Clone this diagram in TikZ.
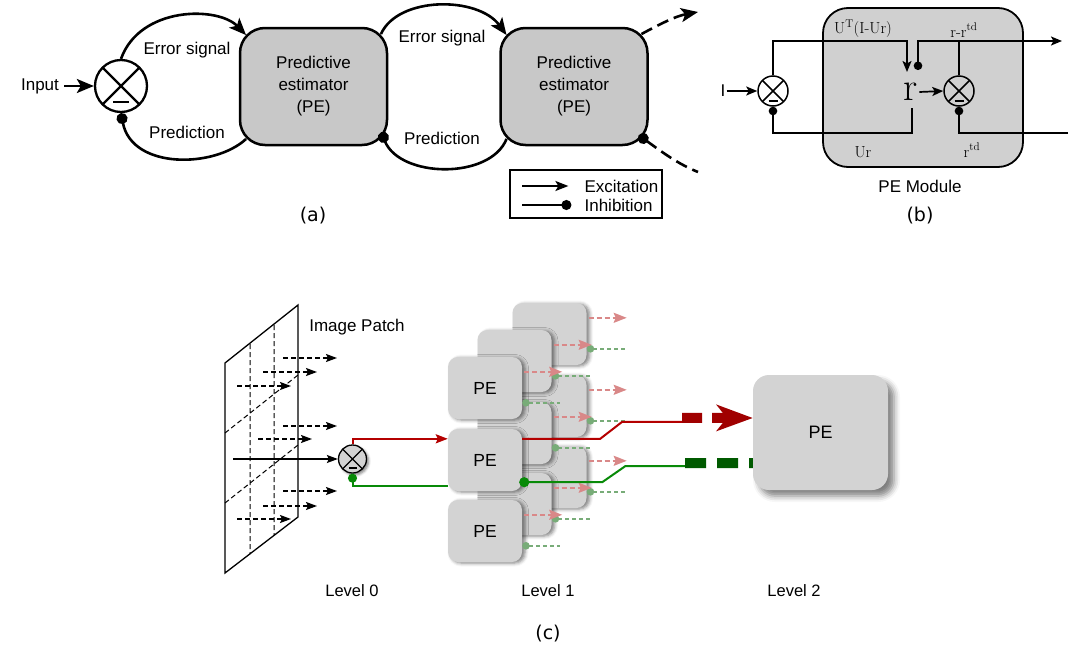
\documentclass[tikz,border=0pt]{standalone}
\usepackage[no-math]{fontspec}
\setmainfont{Liberation Sans}
\newfontfamily\dejavu{DejaVu Sans}
\newfontfamily\lmrom{Latin Modern Roman}
\usetikzlibrary{arrows.meta,calc,shadows,shadows.blur}
\definecolor{peagray}{HTML}{C8C8C8}
\definecolor{pebgray}{HTML}{D0D0D0}
\definecolor{pecgray}{HTML}{D3D3D3}
\definecolor{mred}{HTML}{B40000}
\definecolor{mgreen}{HTML}{088A08}
\definecolor{tred}{HTML}{A00000}
\definecolor{tgreen}{HTML}{005A00}
\definecolor{lred}{HTML}{D98888}
\definecolor{lgreen}{HTML}{78AC78}
\newcommand\mbar[4]{\draw[line width=#4] ($(#1.center)+(-#2,#3)$) -- ($(#1.center)+(#2,#3)$);}
\begin{document}
\begin{tikzpicture}[x=1pt,y=-1pt,
  txt/.style={font=\fontsize{17}{22}\selectfont, inner sep=1pt},
  small/.style={font=\fontsize{16.5}{18}\selectfont, inner sep=1pt},
  lab/.style={font=\dejavu\fontsize{19}{19}\selectfont, inner sep=1pt},
  pea/.style={draw, line width=2.5pt, rounded corners=25pt, fill=peagray, minimum width=147pt, minimum height=117pt, align=center, txt},
  comp/.style={circle, draw, inner sep=0pt, path picture={\draw[line width=#1] (path picture bounding box.north west) -- (path picture bounding box.south east) (path picture bounding box.north east) -- (path picture bounding box.south west);}},
  exc/.style={-{Stealth[length=17pt,width=14pt,inset=4pt]}},
  inh/.style={-{Circle[length=11pt]}},
  inhs/.style={{Circle[length=11pt]}-},
  wa/.style={line width=2.6pt},
  wb/.style={line width=1.7pt},
  excb/.style={-{Stealth[length=11pt,width=9pt,inset=2.5pt]}},
  inhb/.style={-{Circle[length=8.5pt]}},
  pec/.style={rounded corners=10pt, fill=pecgray, minimum width=74pt, minimum height=62pt, inner sep=0pt, font=\fontsize{17.5}{20}\selectfont,
    blur shadow={shadow xshift=3pt, shadow yshift=-1pt, shadow blur radius=3.5pt, shadow opacity=50}},
  lredarr/.style={draw=lred, line width=1.8pt, dash pattern=on 5pt off 3pt, -{Stealth[length=13pt,width=10pt,inset=2pt]}},
  lgreenln/.style={draw=lgreen, line width=1.5pt, dash pattern=on 4pt off 3pt, {Circle[length=7.5pt]}-},
  patcharr/.style={line width=1.5pt, dash pattern=on 5pt off 3pt, -{Stealth[length=11pt,width=8pt,inset=2pt]}},
  ]
\useasboundingbox (0,0) rectangle (1072,651);

%% ---------------- (a) ----------------
\node[txt] (input) at (40,86) {Input};
\node[comp=2.4pt, line width=2.3pt, minimum size=52pt] (c1) at (121,86) {};
\mbar{c1}{8}{16}{2.6pt}
\draw[wa,exc] ([xshift=4pt]input.east) -- (c1.west);
\node[pea] (pe1) at (313.5,86.5) {Predictive\\estimator\\(PE)};
\node[pea] (pe2) at (574,86.5) {Predictive\\estimator\\(PE)};
\draw[wa,exc] (c1.north) .. controls (140,6) and (218,6) .. ($(pe1.north west)+(7.3,8.3)$);
\draw[wa,inh] ($(pe1.south west)+(7.3,-7.3)$) .. controls (215,168) and (132,170) .. (c1.south);
\draw[wa,exc] ($(pe1.north east)+(-7.3,7.3)$) .. controls (398,-4) and (478,-4) .. ($(pe2.north west)+(7.3,8.3)$);
\draw[wa,inh] ($(pe2.south west)+(7.3,-7.3)$) .. controls (490,180) and (400,178) .. ($(pe1.south east)+(-7,-14)$);
\node[txt] (es1) at (187,50) {Error signal};
\node[txt] (pr1) at (187,132) {Prediction};
\node[txt] (es2) at (442,38) {Error signal};
\node[txt] (pr2) at (442,138) {Prediction};
\coordinate (oa1) at (698,12);
\coordinate (oa2) at (698,172);
\draw[wa,exc,dash pattern=on 12pt off 6pt] ($(pe2.north east)+(-7.3,7.3)$) .. controls (660,24) and (676,16) .. (oa1);
\draw[wa,inhs,dash pattern=on 12pt off 6pt] ($(pe2.south east)+(-10,-11)$) .. controls (662,152) and (678,164) .. (oa2);
\node[draw, line width=1.2pt, minimum width=152pt, minimum height=48pt, inner sep=0pt] (leg) at (586,194) {};
\draw[line width=2pt, -{Stealth[length=13pt,width=10pt,inset=3pt]}] ($(leg.west)+(13,-8)$) -- ++(46,0);
\draw[line width=2pt, -{Circle[length=10pt]}] ($(leg.west)+(13,11)$) -- ++(49,0);
\node[txt, anchor=west] (lex) at ($(leg.west)+(74,-8)$) {Excitation};
\node[txt, anchor=west] (lin) at ($(leg.west)+(74,11)$) {Inhibition};
\node[lab] (la) at (313,216) {(a)};

%% ---------------- (b) ----------------
\node[draw, line width=1.8pt, rounded corners=25pt, fill=pebgray, minimum width=200pt, minimum height=159pt] (pem) at (923,87.5) {};
\node[txt] (inI) at (723,91) {I};
\node[comp=1.5pt, line width=1.5pt, minimum size=30pt] (cb1) at (773,91) {};
\node[comp=1.5pt, line width=1.5pt, minimum size=30pt] (cb2) at (959,91) {};
\mbar{cb1}{4.5}{10}{1.6pt}
\mbar{cb2}{4.5}{10}{1.6pt}
\node[inner sep=1pt, font=\lmrom\fontsize{40}{40}\selectfont] (rr) at (911,92) {r};
\coordinate (ra) at (907,72);
\coordinate (rdot) at (918,70);
\coordinate (outb) at (1062,41);
\coordinate (rb) at (912,108);
\coordinate (ub) at (912,133);
\coordinate (outb2) at (1068,133);
\draw[wb,excb] (inI.east) -- (cb1.west);
\draw[wb,excb] (cb1.north) |- ($(ra)+(0,-31)$) -- (ra);
\draw[wb,excb] (cb2.north) |- (outb);
\draw[wb,inhb] (cb2.north |- outb) -- (rdot |- outb) -- (rdot);
\draw[wb,excb] (rr.east) -- (cb2.west);
\draw[wb,inhb] (rb) -- (ub) -| (cb1.south);
\draw[wb,inhb] (outb2) -| (cb2.south);
\node[inner sep=1pt, font=\lmrom\fontsize{16}{18}\selectfont] (lut) at (863,29) {U\textsuperscript{T}(I-Ur)};
\node[inner sep=1pt, font=\lmrom\fontsize{16}{18}\selectfont] (lrr) at (964,30) {r-r\textsuperscript{td}};
\node[inner sep=1pt, font=\lmrom\fontsize{16}{18}\selectfont] (lur) at (863,152) {Ur};
\node[inner sep=1pt, font=\lmrom\fontsize{16}{18}\selectfont] (lrt) at (972,150) {r\textsuperscript{td}};
\node[txt] (lpm) at (920,186) {PE Module};
\node[lab] (lb) at (920,216) {(b)};

%% ---------------- (c) ----------------
\draw[line width=1.3pt] (225,363) -- (298,305) -- (298,517) -- (225,573) -- cycle;
\draw[line width=1pt, dash pattern=on 5pt off 3pt] (250,344) -- (250,554) (274,325) -- (274,535)
  (225,433) -- (298,375) (225,503) -- (298,445);
\foreach \y/\a/\b in {358/283/337, 372/263/317, 386/237/291, 426/283/337, 439/258/312, 491/283/337, 506/263/317, 519/237/291}
  {\draw[patcharr] (\a,\y) -- (\b,\y);}
\node[txt] (ip) at (357,327) {Image Patch};
\node[comp=1.3pt, line width=1.3pt, minimum size=28pt, fill=pecgray,
  blur shadow={shadow xshift=2pt, shadow yshift=-2pt, shadow blur radius=2.5pt, shadow opacity=50}] (c3) at (352.5,459) {};
\mbar{c3}{4}{9}{1.3pt}
\coordinate (ipin) at (233,459);
\draw[line width=1.5pt, -{Stealth[length=11pt,width=8pt,inset=2pt]}] (ipin) -- (c3.west);

% level 2 box
\node[rounded corners=16pt, fill=pecgray, minimum width=135pt, minimum height=115pt, font=\fontsize{18}{20}\selectfont,
  blur shadow={shadow xshift=6pt, shadow yshift=-6pt, shadow blur radius=6pt, shadow opacity=50}] (L2) at (820.5,432.5) {PE};

% level 1 column 3
\foreach \n/\yy in {p31/334, p32/406, p33/477} {\node[pec] (\n) at (549.5,\yy) {};}
\foreach \n in {p31,p32,p33} {
  \draw[lredarr] ($(\n.north east)+(2,15)$) -- ++(38,0);
  \draw[lgreenln] ($(\n.north east)+(0,46)$) -- ++(38,0);}
% column 2
\foreach \n/\yy in {p21/361, p22/433, p23/504} {\node[pec] (\n) at (514.5,\yy) {};}
\foreach \n in {p21,p22,p23} {
  \draw[lredarr] ($(\n.north east)+(2,15)$) -- ++(38,0);
  \draw[lgreenln] ($(\n.north east)+(0,46)$) -- ++(38,0);}
% column 1
\node[pec] (p11) at (485,388) {PE};
\node[pec] (p12) at (485,460) {PE};
\node[pec] (p13) at (485,531) {PE};
\foreach \n in {p11,p13} {
  \draw[lredarr] ($(\n.north east)+(2,15)$) -- ++(38,0);
  \draw[lgreenln] ($(\n.north east)+(0,46)$) -- ++(38,0);}

% main signals
\draw[mred, line width=2pt, -{Stealth[length=12pt,width=9pt,inset=2pt]}] (c3.north) |- ($(p12.north west)+(0,10)$);
\draw[mgreen, line width=2pt, -{Circle[length=9pt]}] ($(p12.south west)+(0,-5)$) -| (c3.south);
\draw[mred, line width=2pt] ($(p12.north east)+(0,10)$) -- ++(78,0) -- ++(22,-17) -- ++(60,0) coordinate (rend);
\draw[mgreen, line width=2pt, {Circle[length=10pt]}-] ($(p12.south east)+(-3,-9)$) -- ++(83,0) -- ++(23,-16) -- ++(60,0) coordinate (gend);
\draw[tred, line width=10pt, dash pattern=on 20pt off 10pt, -{Stealth[length=36pt,width=26pt,inset=10pt]}] ($(rend)+(0,-4)$) -- ($(L2.west)+(0,-14.5)$);
\draw[tgreen, line width=10pt, dash pattern=on 21pt off 11pt] ($(gend)+(0,-3)$) -- ($(L2.west)+(0,30.5)$);

\node[small] (lv0) at (352,591) {Level 0};
\node[small] (lv1) at (548,591) {Level 1};
\node[small] (lv2) at (794,591) {Level 2};
\node[lab] (lc) at (548,634) {(c)};
\end{tikzpicture}
\end{document}
